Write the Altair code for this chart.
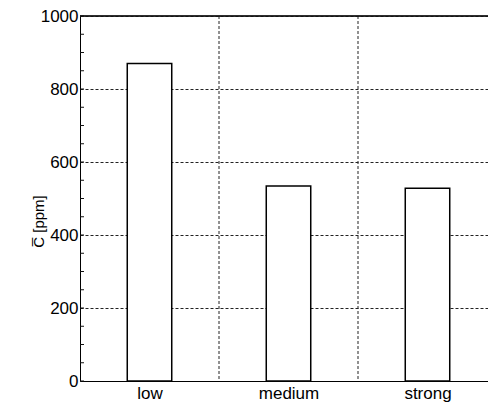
import altair as alt
import pandas as pd

categories = ["low", "medium", "strong"]
values = [870, 534, 528]
boundaries = [1, 2, 3]
minor_ticks = list(range(0, 1001, 50))
y_ticks = [0, 200, 400, 600, 800, 1000]

df = pd.DataFrame({"cat": categories, "value": values, "idx": list(range(len(categories)))})
bdf = pd.DataFrame({"b": boundaries})
mdf = pd.DataFrame({"t": minor_ticks})

FONT = "Liberation Sans"
W, H = 408, 365
xscale = alt.Scale(domain=[0, W / 139.0], nice=False, zero=False, padding=0)
yscale = alt.Scale(domain=[0, 1000], nice=False, padding=0)

label_expr = "[" + ",".join("'%s'" % c for c in categories) + "][floor(datum.value)]"

xaxis = alt.Axis(
    values=[0.5, 1.5, 2.5],
    labelExpr=label_expr,
    title=None,
    grid=False,
    ticks=False,
    tickSize=0,
    labelPadding=17,
    labelBaseline="alphabetic",
    labelFontSize=17,
    labelFont=FONT,
    labelColor="black",
    domainColor="black",
    domainWidth=1,
)
yaxis = alt.Axis(
    values=y_ticks,
    format="d",
    title="C\u0305 [ppm]",
    titleFont=FONT,
    titleFontSize=15,
    titleFontWeight="normal",
    titleColor="black",
    titleX=-42,
    titleY=205,
    titleAlign="center",
    titleBaseline="middle",
    titleAngle=270,
    grid=True,
    gridColor="#222",
    gridDash=[3, 2],
    gridWidth=1,
    ticks=False,
    tickSize=0,
    labelPadding=2,
    labelFontSize=17,
    labelFont=FONT,
    labelColor="black",
    domainColor="black",
    domainWidth=1,
)

bars = alt.Chart(df).transform_calculate(
    x0="datum.idx + 0.5 - 0.16", x1="datum.idx + 0.5 + 0.16"
).mark_bar(fill="white", stroke="black", strokeWidth=1.5, orient="vertical", clip=True).encode(
    x=alt.X("x0:Q", scale=xscale, axis=xaxis),
    x2="x1:Q",
    y=alt.Y("value:Q", scale=yscale, axis=yaxis),
    y2=alt.datum(0),
)

vgrid = alt.Chart(bdf).mark_rule(color="#222", strokeDash=[3, 2], strokeWidth=1, clip=True).encode(
    x=alt.X("b:Q", scale=xscale, axis=xaxis)
)

minor = alt.Chart(mdf).mark_rule(color="#111", strokeWidth=1).encode(
    y=alt.Y("t:Q", scale=yscale, axis=yaxis),
    x=alt.value(0),
    x2=alt.value(4),
)

top = alt.Chart(bdf).mark_rule(color="#111", strokeWidth=1).encode(
    y=alt.datum(1000, scale=yscale, axis=yaxis),
)

chart = alt.layer(vgrid, bars, minor, top).properties(
    width=W,
    height=H,
    autosize=alt.AutoSizeParams(type="none"),
    padding={"left": 72, "top": 8, "right": 0, "bottom": 22},
).configure_view(stroke=None)

chart.save("out.html", embed_options={"renderer": "svg", "actions": False})
